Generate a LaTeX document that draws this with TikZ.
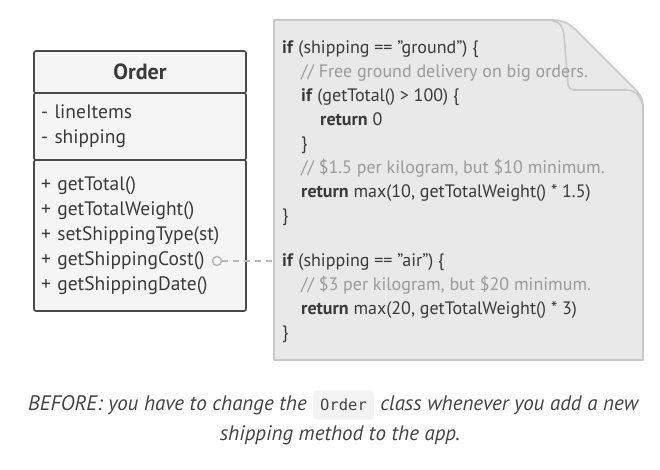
\documentclass[tikz,border=0pt]{standalone}
\usepackage{fontspec}
\setmainfont{PT Sans}
\setmonofont{DejaVu Sans Mono}
\usetikzlibrary{positioning}
\definecolor{umlline}{HTML}{4A4A4A}
\definecolor{umlfill}{HTML}{F5F5F5}
\definecolor{notefill}{HTML}{E9E9E9}
\definecolor{noteline}{HTML}{C8C8C8}
\definecolor{codetext}{HTML}{3A3A3A}
\definecolor{commentgray}{HTML}{9A9A9A}
\definecolor{captext}{HTML}{444444}
\definecolor{chipfill}{HTML}{F3F3F3}
\definecolor{dashgray}{HTML}{B8B8B8}
\newcommand{\cind}{\hspace*{19pt}}
\newcommand{\cmt}[1]{{\color{commentgray}#1}}
\begin{document}
\begin{tikzpicture}[x=1pt, y=-1pt,
  part/.style = {shape=rectangle, rounded corners=2pt, draw=umlline,
    line width=1.6pt, fill=umlfill, outer sep=0pt,
    text width=198pt, inner xsep=7pt, align=left, text=codetext,
    font=\fontsize{19.5}{25}\selectfont},
  code/.style = {anchor=west, inner sep=0pt, align=left, text=codetext,
    font=\fontsize{18}{24}\selectfont},
  note/.style = {draw=noteline, line width=1.6pt, line join=round},
  caption/.style = {inner sep=0pt, text=captext,
    font=\fontsize{21}{24}\selectfont\itshape},
  chip/.style = {rounded corners=4pt, fill=chipfill, text=captext,
    inner xsep=7pt, minimum height=29pt, font=\fontsize{15.5}{18}\ttfamily}]
  \useasboundingbox (0,0) rectangle (660,469);

  % class
  \node[part, align=center, minimum height=42pt,
    font=\fontsize{22}{26}\selectfont\bfseries] (title) at (140,72) {Order};
  \node[part, minimum height=67pt, below=0pt of title] (attrs)
    {- lineItems\\- shipping};
  \node[part, minimum height=151pt, below=0pt of attrs] (methods)
    {+ getTotal()\\+ getTotalWeight()\\+ setShippingType(st)\\
     + getShippingCost()\\+ getShippingDate()};

  % note with folded corner
  \path[note, fill=notefill] (274,20) -- (553,20) to[out=0,in=135] (578,32)
    -- (632,86) to[out=-45,in=90] (643,106) -- (643,360) -- (274,360) -- cycle;
  \draw[note] (553,21) to[out=0,in=95] (564,35) -- (568,85)
    to[out=-85,in=180] (574,90) -- (626,90) to[out=0,in=100] (642,104);

  \node[code] (ground) at (282,133) {%
    \textbf{if} (shipping == "ground") \{\\
    \cind\cmt{// Free ground delivery on big orders.}\\
    \cind\textbf{if} (getTotal() > 100) \{\\
    \cind\cind\textbf{return} 0\\
    \cind\}\\
    \cind\cmt{// \$1.5 per kilogram, but \$10 minimum.}\\
    \cind\textbf{return} max(10, getTotalWeight() * 1.5)\\
    \}};
  \node[code] (air) at (282,298) {%
    \textbf{if} (shipping == "air") \{\\
    \cind\cmt{// \$3 per kilogram, but \$20 minimum.}\\
    \cind\textbf{return} max(20, getTotalWeight() * 3)\\
    \}};

  % connector
  \node[circle, draw=dashgray, line width=1.5pt, fill=umlfill,
    minimum size=9pt, inner sep=0pt] (port) at (217,261) {};
  \coordinate (noteport) at (274,261);
  \draw[dashgray, line width=1.5pt, dash pattern=on 6pt off 5pt]
    (port) -- (noteport);

  % caption
  \node[caption, anchor=east] (capleft) at (307,405)
    {BEFORE: you have to change the};
  \node[chip, right=6pt of capleft] (capcode) {Order};
  \node[caption, right=6pt of capcode] (capright)
    {class whenever you add a new};
  \node[caption] (capline) at (340,435) {shipping method to the app.};
\end{tikzpicture}
\end{document}
